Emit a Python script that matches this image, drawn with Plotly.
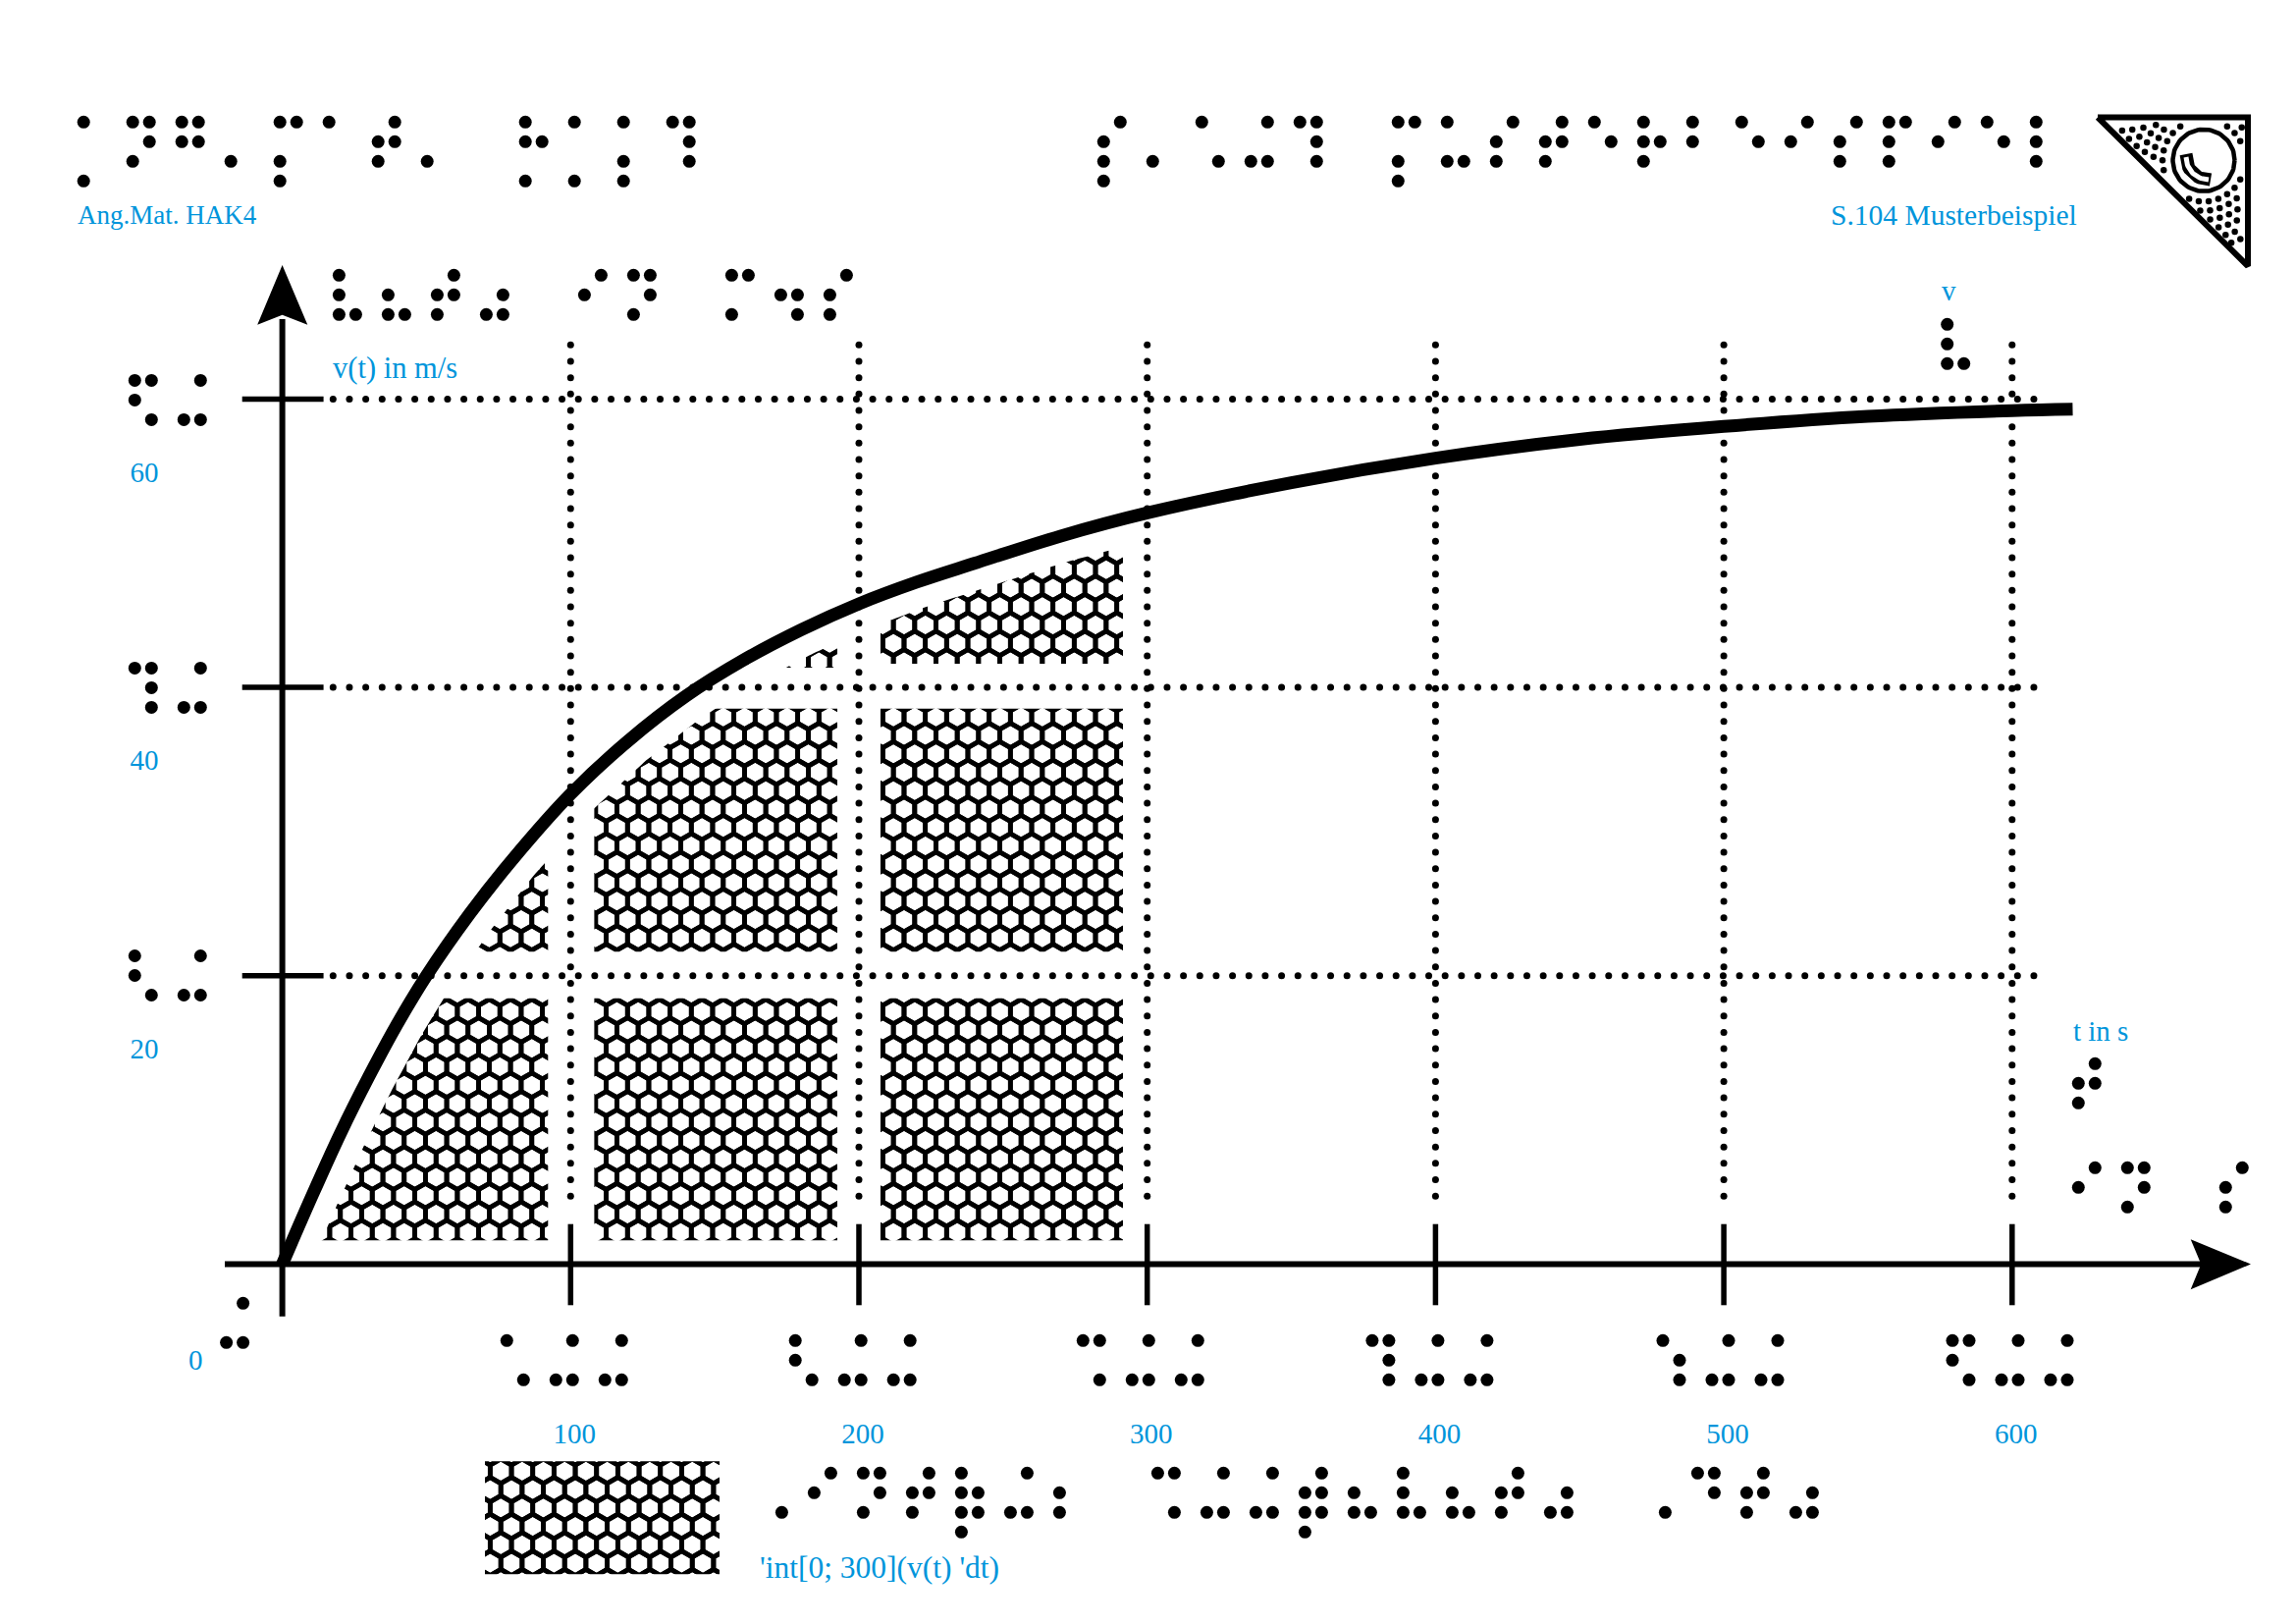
import numpy as np
import plotly.graph_objects as go

# ---------- data ----------
X_TICKS = [100, 200, 300, 400, 500, 600]
X_TICK_LABELS = ["100", "200", "300", "400", "500", "600"]
Y_TICKS = [20, 40, 60]
Y_TICK_LABELS = ["20", "40", "60"]

CURVE_T = [0, 10, 20, 30, 40, 50, 65, 80, 100, 120, 140, 160, 180, 200, 220, 240, 270, 300, 350, 400, 450, 500, 550, 600, 621]
CURVE_V = [0, 4.6, 9.0, 13.0, 16.7, 20.0, 24.3, 28.1, 32.6, 36.3, 39.4, 41.9, 44.0, 45.8, 47.3, 48.6, 50.5, 52.1, 54.2, 55.9, 57.2, 58.1, 58.8, 59.2, 59.3]

# braille cells, as dot numbers
BR_TITLE_LEFT = ["17", "1345", "1245", "3", "1347", "1", "2345", "3", "", "1257", "17", "137", "1456"]
BR_TITLE_RIGHT = ["2347", "3", "16", "346", "1456", "", "1347", "136", "234", "2345", "15", "1235", "12", "15", "24", "234", "1234", "24", "15", "123"]
BR_Y_TITLE = ["1236", "236", "2345", "356", "", "24", "1345", "", "134", "256", "234"]
BR_V = ["1236"]
BR_T_LINE1 = ["2345"]
BR_T_LINE2 = ["24", "1345", "", "234"]
BR_LEGEND = ["6", "24", "1345", "2345", "123567", "346", "23", "", "146", "346", "346", "234567",
             "236", "1236", "236", "2345", "356", "", "6", "145", "2345", "356"]
BR_0 = ["346"]
BR_100 = ["16", "346", "346"]
BR_200 = ["126", "346", "346"]
BR_300 = ["146", "346", "346"]
BR_400 = ["1456", "346", "346"]
BR_500 = ["156", "346", "346"]
BR_600 = ["1246", "346", "346"]
BR_Y20 = ["126", "346"]
BR_Y40 = ["1456", "346"]
BR_Y60 = ["1246", "346"]

BLUE_TEXTS = ["Ang.Mat. HAK4", "S.104 Musterbeispiel", "v(t) in m/s", "v", "t in s", "0", "'int[0; 300](v(t) 'dt)"]

# ---------- page geometry ----------
W, H = 2339, 1654
X0, Y0 = 287.6, 1287.5
SX, SY = 2.937, 14.685
INK = "#000000"
BLUE = "#0095DB"
FONT = "Liberation Serif"


def dx(p):
    return (np.asarray(p, dtype=float) - X0) / SX


def dy(p):
    return (Y0 - np.asarray(p, dtype=float)) / SY


fig = go.Figure()


def add_lines(px, py, width, color=INK, fill=False):
    kw = dict(fill="toself", fillcolor=color, mode="none") if fill else dict(mode="lines", line=dict(color=color, width=width))
    x = [None if p is None else float(dx(p)) for p in px]
    y = [None if p is None else float(dy(p)) for p in py]
    fig.add_trace(go.Scatter(x=x, y=y, showlegend=False, hoverinfo="skip", cliponaxis=False, **kw))


def add_dots(px, py, size):
    fig.add_trace(go.Scatter(x=dx(px), y=dy(py), mode="markers", showlegend=False, hoverinfo="skip", cliponaxis=False,
                             marker=dict(size=size, color=INK, line=dict(width=0))))


# ---------- hexagon hatching ----------
HEX_R, HEX_W, HEX_H = 12.5, 21.67, 18.75


def hex_lines(cx0, cy0, xmin, xmax, ymin, ymax):
    px, py = [], []
    ang = np.radians(90 + 60 * np.arange(7))
    i0 = int(np.floor((ymin - cy0) / HEX_H))
    i1 = int(np.ceil((ymax - cy0) / HEX_H))
    for i in range(i0, i1 + 1):
        cy = cy0 + i * HEX_H
        if not ymin <= cy <= ymax:
            continue
        off = HEX_W / 2 if i % 2 else 0
        j0 = int(np.floor((xmin - cx0) / HEX_W)) - 1
        j1 = int(np.ceil((xmax - cx0) / HEX_W)) + 1
        for j in range(j0, j1 + 1):
            cx = cx0 + off + j * HEX_W
            if not xmin <= cx <= xmax:
                continue
            px += list(cx + HEX_R * np.cos(ang)) + [None]
            py += list(cy - HEX_R * np.sin(ang)) + [None]
    return px, py


def rect_mask(rects):
    px, py = [], []
    for (x1, y1, x2, y2) in rects:
        px += [x1, x2, x2, x1, x1, None]
        py += [y1, y1, y2, y2, y1, None]
    return px, py


# area under the curve
hx, hy = hex_lines(617.6, 1049.0, 310, 1150, 540, 1268)
add_lines(hx, hy, 4.8)

t_f = np.linspace(0, 310, 300)
v_f = np.interp(t_f, CURVE_T, CURVE_V)
cpx = X0 + t_f * SX
cpy = Y0 - v_f * SY
tx, ty = np.gradient(cpx), np.gradient(cpy)
nrm = np.hypot(tx, ty)
GAP = 27
opx = cpx - ty / nrm * GAP
opy = cpy + tx / nrm * GAP
add_lines(list(opx) + [1200, 1200, 240, 240, opx[0]],
          list(opy) + [opy[-1], 300, 300, 1300, opy[0]], 0, "#ffffff", fill=True)
mx, my = rect_mask([(558.3, 500, 605.4, 1285), (853, 500, 897, 1285), (1144, 500, 1168, 1285),
                    (300, 969.3, 1168, 1016.7), (300, 680, 860, 721.7), (860, 676, 1168, 721.7),
                    (300, 1263.3, 1168, 1285)])
add_lines(mx, my, 0, "#ffffff", fill=True)

# legend swatch
hx, hy = hex_lines(510.2, 1498.3, 482, 745, 1476, 1615)
add_lines(hx, hy, 4.8)
mx, my = rect_mask([(465, 1460, 760, 1488.3), (465, 1603.3, 760, 1632), (465, 1460, 494, 1632), (733, 1460, 760, 1632)])
add_lines(mx, my, 0, "#ffffff", fill=True)

# ---------- dotted grid ----------
gx = np.arange(339.3, 2073, 16.66)
gy = np.arange(351.3, 1219, 16.67)
for v in Y_TICKS:
    add_dots(gx, np.full(gx.shape, Y0 - v * SY), 7)
for v in X_TICKS:
    add_dots(np.full(gy.shape, X0 + v * SX), gy, 7)

# ---------- axes, ticks, arrows ----------
add_lines([229, 2245], [Y0, Y0], 6)
add_lines([X0, X0], [325, 1340.7], 6)
tpx, tpy = [], []
for v in X_TICKS:
    tpx += [X0 + v * SX, X0 + v * SX, None]
    tpy += [1246.7, 1329.3, None]
for v in Y_TICKS:
    tpx += [246.7, 329.6, None]
    tpy += [Y0 - v * SY, Y0 - v * SY, None]
add_lines(tpx, tpy, 5.5)
add_lines([X0, 262.2, X0, 313.3, X0], [270, 330.7, 320.7, 330.7, 270], 0, INK, fill=True)
add_lines([2293, 2231.7, 2242.3, 2231.7, 2293], [Y0, 1262.3, Y0, 1313.3, Y0], 0, INK, fill=True)

# ---------- curve ----------
fig.add_trace(go.Scatter(x=CURVE_T, y=CURVE_V, mode="lines", showlegend=False, hoverinfo="skip",
                         line=dict(color=INK, width=13, shape="spline", smoothing=1.0, simplify=False)))

# ---------- braille ----------
DOT = {"1": (0, 0), "2": (0, 1), "3": (0, 2), "7": (0, 3), "4": (1, 0), "5": (1, 1), "6": (1, 2), "8": (1, 3)}
COL, ROW, PITCH = 17.0, 20.0, 50.0
PLACED = [
    (BR_TITLE_LEFT, 85.2, 124.3), (BR_TITLE_RIGHT, 1124.3, 124.3), (BR_Y_TITLE, 345.4, 280.3),
    (BR_V, 1983.7, 330.3), (BR_T_LINE1, 2117.3, 1083.3), (BR_T_LINE2, 2117.3, 1189.3),
    (BR_LEGEND, 779.4, 1500.3), (BR_0, 230.6, 1327.3),
    (BR_100, 516.3, 1365.3), (BR_200, 810.2, 1365.3), (BR_300, 1103.3, 1365.3),
    (BR_400, 1397.9, 1365.3), (BR_500, 1694.0, 1365.3), (BR_600, 1989.0, 1365.3),
    (BR_Y20, 137.3, 973.5), (BR_Y40, 137.3, 680.4), (BR_Y60, 137.3, 387.4),
]
bx, by = [], []
for cells, ox, oy in PLACED:
    for n, cell in enumerate(cells):
        for d in cell:
            c, r = DOT[d]
            bx.append(ox + n * PITCH + c * COL)
            by.append(oy + r * ROW)
add_dots(bx, by, 13)

# ---------- logo ----------
add_lines([2137, 2290, 2290, 2137], [119.5, 119.5, 271, 119.5], 6)
LC = (2245.0, 163.3)
lx, ly = [], []
for k, rad in enumerate(np.arange(42, 175, 9.3)):
    n = int(2 * np.pi * rad / 9.8)
    for a in np.linspace(0, 2 * np.pi, n, endpoint=False) + k * 0.07:
        x = LC[0] + rad * np.cos(a)
        y = LC[1] + rad * np.sin(a)
        if y > 125 and x < 2285 and (y - 117.7) < (x - 2135) * 0.998 - 8:
            lx.append(x)
            ly.append(y)
add_dots(lx, ly, 6.5)
a = np.linspace(0, 2 * np.pi, 90)
add_lines(list(LC[0] + 31.5 * np.cos(a)), list(LC[1] + 31.5 * np.sin(a)), 4.5)
a2 = np.linspace(np.pi, np.pi / 2, 24)
hookx = list(2250 + 23 * np.cos(a2))
hooky = list(160 + 23 * np.sin(a2))
hookx = [hookx[0]] + hookx + [2252]
hooky = [157] + hooky + [183]
add_lines(hookx, hooky, 13)
add_lines(hookx[1:-1], hooky[1:-1], 5, "#ffffff")

# ---------- blue text ----------
NOTES = [
    (BLUE_TEXTS[0], 78, 228, 27),
    (BLUE_TEXTS[1], 1864, 228, 29.5),
    (BLUE_TEXTS[2], 338, 385, 30.5),
    (BLUE_TEXTS[3], 1977, 305, 29),
    (BLUE_TEXTS[4], 2111, 1059, 29),
    (BLUE_TEXTS[5], 191, 1394, 29),
    (BLUE_TEXTS[6], 773, 1606, 31.5),
]
annotations = []
for text, px, base, size in NOTES:
    annotations.append(dict(x=float(dx(px)), y=float(dy(base + size * 0.27)), xref="x", yref="y", text=text,
                            showarrow=False, xanchor="left", yanchor="bottom", borderpad=0,
                            font=dict(family=FONT, size=size, color=BLUE)))

fig.update_layout(
    width=W, height=H, margin=dict(l=0, r=0, t=0, b=0, pad=0, autoexpand=False),
    paper_bgcolor="#ffffff", plot_bgcolor="#ffffff", showlegend=False, hovermode=False,
    annotations=annotations,
    xaxis=dict(range=[float(dx(0)), float(dx(W))], domain=[0, 1], anchor="free", position=1 - Y0 / H,
               tickmode="array", tickvals=X_TICKS, ticktext=X_TICK_LABELS, ticks="", showline=False,
               showgrid=False, zeroline=False, automargin=False, ticklabelstandoff=152, ticklabelshift=4,
               tickfont=dict(family=FONT, size=29, color=BLUE), fixedrange=True),
    yaxis=dict(range=[float(dy(H)), float(dy(0))], domain=[0, 1], anchor="free", position=X0 / W,
               tickmode="array", tickvals=Y_TICKS, ticktext=Y_TICK_LABELS, ticks="", showline=False,
               showgrid=False, zeroline=False, automargin=False, ticklabelstandoff=126, ticklabelshift=74,
               tickfont=dict(family=FONT, size=29, color=BLUE), fixedrange=True),
)

fig.write_html("out.html", config=dict(displayModeBar=False),
               post_script="document.body.style.margin='0';")
